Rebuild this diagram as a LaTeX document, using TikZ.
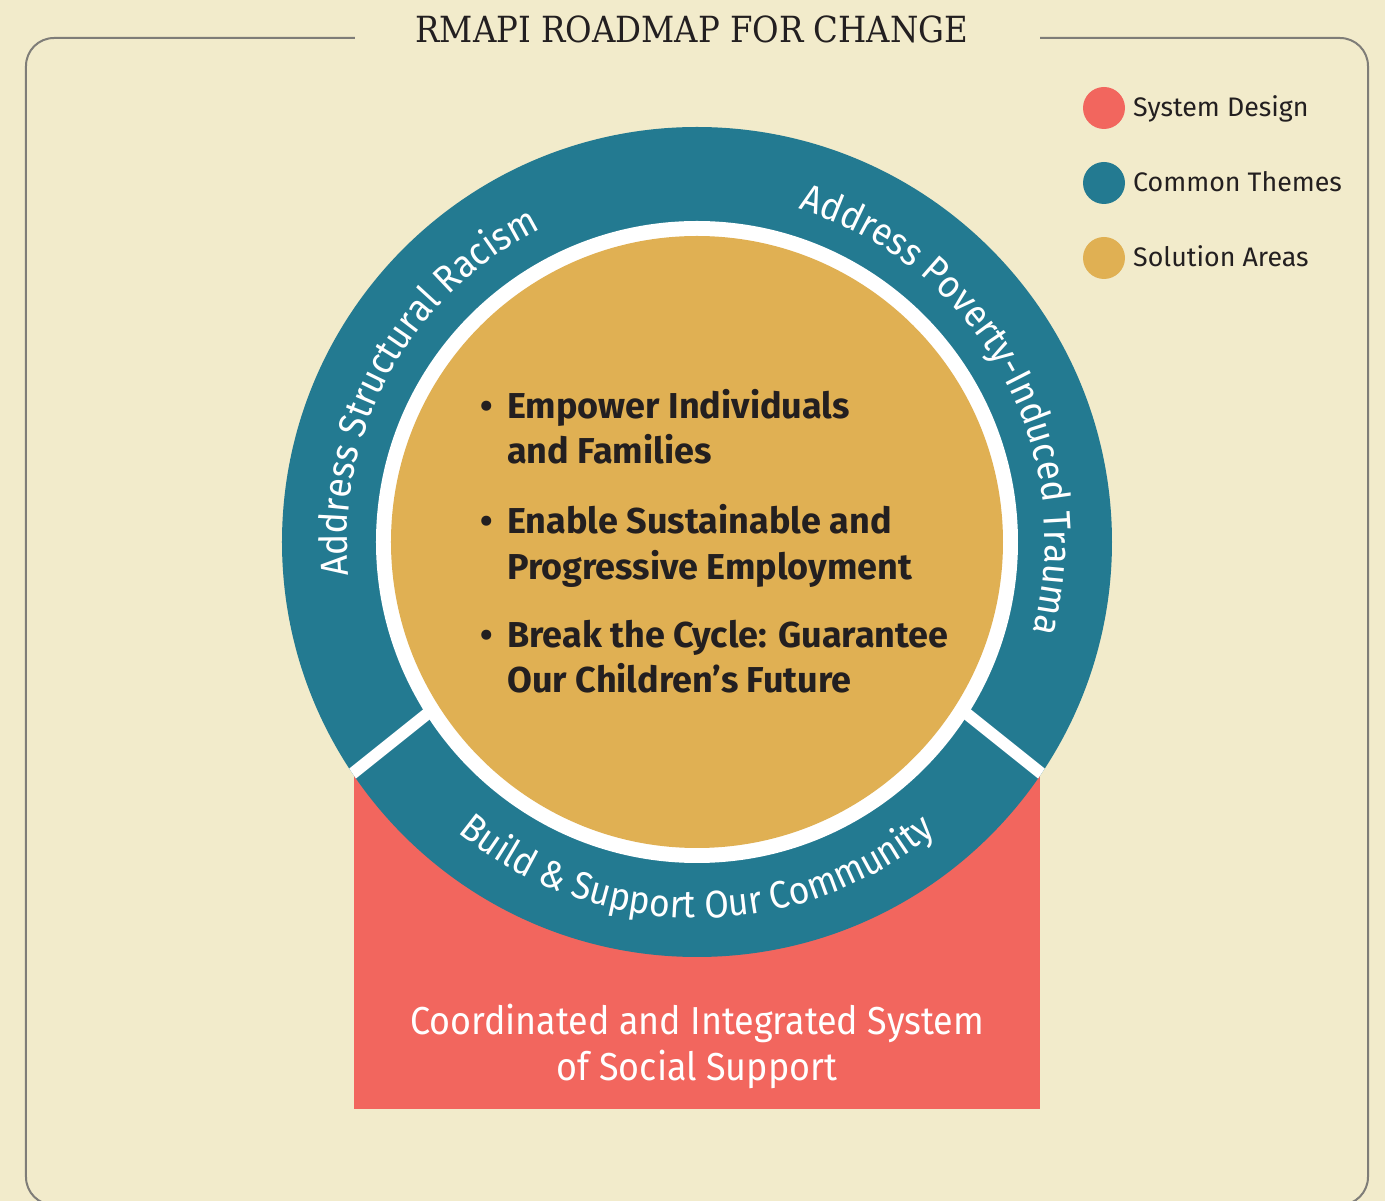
\documentclass[tikz,border=0pt]{standalone}
\usepackage{fontspec}
\setmainfont{Fira Sans}
\newfontfamily\titlefont{DejaVu Serif Condensed}
\newfontfamily\narrowfont[FakeStretch=0.92]{Fira Sans}
\usetikzlibrary{decorations.text}

\definecolor{paper}{HTML}{F2EBCB}
\definecolor{ringteal}{HTML}{237A91}
\definecolor{coregold}{HTML}{E0B053}
\definecolor{sysred}{HTML}{F2665E}
\definecolor{ink}{HTML}{231F20}
\definecolor{framegray}{HTML}{7F7D78}

\newcommand\ringfont{\narrowfont\fontsize{38.5pt}{42pt}\selectfont}

\tikzset{
  legenddot/.style={circle, inner sep=0pt, minimum size=42pt},
  legendlabel/.style={anchor=base west, inner sep=0pt, text=ink, font=\fontsize{26.8pt}{30pt}\selectfont},
  bulletmark/.style={anchor=base, inner sep=0pt, text=ink, font=\fontsize{36pt}{42pt}\selectfont\bfseries},
  bulletline/.style={anchor=base west, inner sep=0pt, text=ink, font=\fontsize{36pt}{42pt}\selectfont\bfseries},
  syslabel/.style={anchor=base, inner sep=0pt, text=white, font=\narrowfont\fontsize{39pt}{44pt}\selectfont},
  ringtext/.style={decorate, decoration={text along path, text align=center, text color=white, text={|\ringfont|#1}}}
}

\begin{document}
\begin{tikzpicture}[x=1pt, y=1pt]
  \useasboundingbox (-697,-659) rectangle (688,542);
  \fill[paper] (-697,-659) rectangle (688,542);

  % outer frame with a gap for the heading
  \draw[framegray, line width=2pt, rounded corners=28pt]
    (-342,504) -- (-671,504) -- (-671,-663) -- (671,-663) -- (671,504) -- (343,504);
  \node[anchor=base, inner sep=0pt, text=ink, font=\titlefont\fontsize{36pt}{40pt}\selectfont]
    (title) at (-5,499) {RMAPI ROADMAP FOR CHANGE};

  % system design block under the ring
  \fill[sysred] (-343,-220) rectangle (343,-567);

  % common themes ring
  \fill[ringteal] (0,0) circle[radius=415];
  \begin{scope}
    \clip (0,0) circle[radius=415];
    \draw[white, line width=12pt] (-365,-248) -- (-145,-72);
    \draw[white, line width=12pt] (365,-248) -- (145,-72);
  \end{scope}
  \fill[white] (0,0) circle[radius=321];
  \fill[coregold] (0,0) circle[radius=306];

  % ring labels
  \path[ringtext={Address Structural Racism}]
    (211:350) arc[start angle=211, end angle=91, radius=350];
  \path[ringtext={Address Poverty-Induced Trauma}]
    (89:348) arc[start angle=89, end angle=-31, radius=348];
  \path[ringtext={Build {\&} Support Our Community}]
    (210:376) arc[start angle=210, end angle=330, radius=376];

  % solution areas
  \node[bulletmark] (m1) at (-210,123) {\textbullet};
  \node[bulletline] (s1a) at (-190,123) {Empower Individuals};
  \node[bulletline] (s1b) at (-190,78) {and Families};
  \node[bulletmark] (m2) at (-210,8) {\textbullet};
  \node[bulletline] (s2a) at (-190,8) {Enable Sustainable and};
  \node[bulletline] (s2b) at (-190,-38) {Progressive Employment};
  \node[bulletmark] (m3) at (-210,-106) {\textbullet};
  \node[bulletline] (s3a) at (-190,-106) {Break the Cycle: Guarantee};
  \node[bulletline] (s3b) at (-190,-151) {Our Children’s Future};

  % system design label
  \node[syslabel] (sys1) at (0,-493) {Coordinated and Integrated System};
  \node[syslabel] (sys2) at (0,-538) {of Social Support};

  % legend
  \node[legenddot, fill=sysred] (lg1) at (407,434) {};
  \node[legenddot, fill=ringteal] (lg2) at (407,359) {};
  \node[legenddot, fill=coregold] (lg3) at (407,284) {};
  \node[legendlabel] (lt1) at (436,425) {System Design};
  \node[legendlabel] (lt2) at (436,350) {Common Themes};
  \node[legendlabel] (lt3) at (436,275) {Solution Areas};
\end{tikzpicture}
\end{document}
